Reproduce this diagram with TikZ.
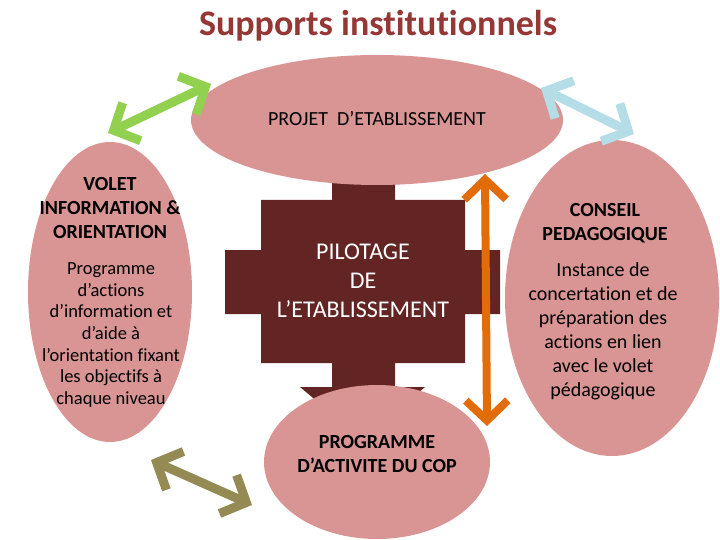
\documentclass[tikz,border=0pt]{standalone}
\usepackage{fontspec}
\setmainfont{Carlito}[Ligatures=NoCommon]
\usetikzlibrary{shapes.geometric,arrows.meta}
\definecolor{rose}{HTML}{D99594}
\definecolor{brun}{HTML}{632523}
\definecolor{titre}{HTML}{953735}
\definecolor{vert}{HTML}{92D050}
\definecolor{bleu}{HTML}{B4DDE7}
\definecolor{olive}{HTML}{948A54}
\definecolor{orange}{HTML}{E36C0A}

\tikzstyle{bulle}=[ellipse, fill=rose, inner sep=0pt]
\tikzstyle{entete}=[align=center, font=\bfseries\fontsize{20}{24}\selectfont]
\tikzstyle{texte}=[align=center, font=\fontsize{20}{24}\selectfont]
\tikzstyle{lien}=[{Straight Barb[length=20pt,width=42pt]}-{Straight Barb[length=20pt,width=42pt]}, line width=9pt]

\begin{document}
\begin{tikzpicture}[x=1pt, y=-1pt]
      \useasboundingbox (0,0) rectangle (720,540);
      \clip (0,0) rectangle (720,540);
      \node[text=titre, font=\bfseries\fontsize{36}{42}\selectfont] (titre) at (378,26) {Supports institutionnels};

      \fill[brun] (332,180) -- (395,180) -- (395,200) -- (465,200) -- (465,250) -- (500,250)
        -- (500,314) -- (465,314) -- (465,363) -- (395,363) -- (395,387) -- (425,387)
        -- (363,440) -- (300,387) -- (332,387) -- (332,363) -- (261,363) -- (261,314)
        -- (225,314) -- (225,250) -- (261,250) -- (261,200) -- (332,200) -- cycle;
      \node[texte, text=white, font=\fontsize{24}{29}\selectfont] (pilotage) at (363,281)
        {PILOTAGE\\DE\\L’ETABLISSEMENT};

      \node[bulle, minimum width=372pt, minimum height=130pt] (projet) at (377,120) {};
      \node[bulle, minimum width=164pt, minimum height=300pt] (volet) at (110,292) {};
      \node[bulle, minimum width=214pt, minimum height=316pt] (conseil) at (612,298) {};
      \node[bulle, minimum width=226pt, minimum height=154pt] (cop) at (377,462) {};

      \node[texte] (projettexte) at (377,119) {PROJET \ D’ETABLISSEMENT};
      \node[entete] (volettitre) at (110,208) {VOLET\\INFORMATION \&\\ORIENTATION};
      \node[texte, font=\fontsize{18.5}{21.7}\selectfont] (volettexte) at (111,335)
        {Programme\\d’actions\\d’information et\\d’aide à\\l’orientation fixant\\les objectifs à\\chaque niveau};
      \node[entete] (conseiltitre) at (605,223) {CONSEIL\\PEDAGOGIQUE};
      \node[texte] (conseiltexte) at (603,331)
        {Instance de\\concertation et de\\préparation des\\actions en lien\\avec le volet\\pédagogique};
      \node[entete] (coptexte) at (377,454) {PROGRAMME\\D’ACTIVITE DU COP};

      \coordinate (v1) at (108,133);
      \coordinate (v2) at (211,84);
      \coordinate (b1) at (541,88);
      \coordinate (b2) at (634,134);
      \coordinate (o1) at (151,460);
      \coordinate (o2) at (252,505);
      \coordinate (r1) at (485,174);
      \coordinate (r2) at (487,426);
      \draw[lien, vert] (v1) -- (v2);
      \draw[lien, bleu] (b1) -- (b2);
      \draw[lien, olive] (o1) -- (o2);
      \draw[lien, orange, line width=8pt] (r1) -- (r2);
    \end{tikzpicture}
\end{document}
